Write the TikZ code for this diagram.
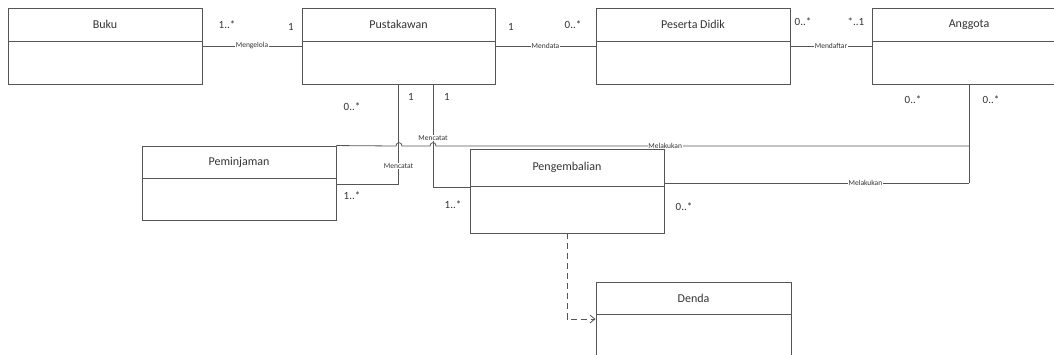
\documentclass[tikz,border=0pt]{standalone}
\usepackage{fontspec}
\setmainfont{Carlito}
\usetikzlibrary{arrows.meta}
\definecolor{edge}{HTML}{555555}
\definecolor{ink}{HTML}{333333}
\tikzset{
  clsbox/.style={draw=edge, line width=0.9pt, rectangle, inner sep=0pt},
  divider/.style={draw=edge, line width=0.9pt},
  clsname/.style={text=ink, font=\fontsize{12}{14}\selectfont, inner sep=0pt},
  mult/.style={text=ink, font=\fontsize{11}{13}\selectfont, inner sep=0pt},
  lbl/.style={text=ink, font=\fontsize{7.5}{9}\selectfont, fill=white, inner sep=0.6pt},
  assoc/.style={draw=edge, line width=0.8pt},
  depend/.style={draw=edge, line width=0.9pt, dash pattern=on 6pt off 4pt,
    -{Straight Barb[length=5pt, width=8pt, line width=0.8pt]}},
}
% class box: name, left, top, right, divider, bottom, title
\newcommand\umlclass[7]{%
  \node[clsbox, minimum width={(#4-#2)*1pt}, minimum height={(#6-#3)*1pt}]
    (#1) at ({(#2+#4)/2},{(#3+#6)/2}) {};
  \draw[divider] (#2,#5) -- (#4,#5);
  \node[clsname] (#1-t) at ({(#2+#4)/2},{(#3+#5)/2}) {#7};
}
\begin{document}
\begin{tikzpicture}[x=1pt, y=-1pt]
\useasboundingbox (0,0) rectangle (1054,354);
\clip (0,0) rectangle (1054,354);

% classes
\umlclass{buku}{8}{8}{202}{41}{84}{Buku}
\umlclass{pus}{302}{8}{495}{41}{84}{Pustakawan}
\umlclass{psd}{596}{8}{790}{41}{84}{Peserta Didik}
\umlclass{agt}{872}{8}{1066}{41}{84}{Anggota}
\umlclass{pem}{142}{146}{336}{178}{220}{Peminjaman}
\umlclass{peng}{470}{149}{664}{186}{233}{Pengembalian}
\umlclass{denda}{596}{282}{791}{314}{380}{Denda}

% associations along the top row
\draw[assoc] (buku.east |- 0,46) -- node[lbl]{Mengelola} (pus.west |- 0,46);
\draw[assoc] (pus.east |- 0,46) -- node[lbl]{Mendata} (psd.west |- 0,46);
\draw[assoc] (psd.east |- 0,46) -- node[lbl]{Mendaftar} (agt.west |- 0,46);

% Anggota trunk line
\coordinate (ja) at (agt.south |- 0,146);
\coordinate (jb) at (agt.south |- 0,183);
\draw[assoc] (agt.south) -- (jb);

% Pustakawan -- Peminjaman
\draw[assoc] (pus.south) -- node[lbl, pos=0.82]{Mencatat} (pus.south |- 0,184) -- (pem.east |- 0,184);

% Pustakawan -- Pengembalian
\coordinate (pc) at (433,0 |- pus.south);
\draw[assoc] (pc) -- node[lbl, pos=0.52]{Mencatat} (pc |- 0,187) -- (peng.west |- 0,187);

% Peminjaman -- Anggota, hopping over the two vertical lines
\draw[assoc] (pem.north east) -- (396,146)
  .. controls (396,141.5) and (402,141.5) .. (402,146) -- (430,146)
  .. controls (430,141.5) and (436,141.5) .. (436,146)
  -- node[lbl, pos=0.43]{Melakukan} (ja);

% Pengembalian -- Anggota
\draw[assoc] (peng.east |- 0,183) -- node[lbl, pos=0.66]{Melakukan} (jb);

% Pengembalian depends on Denda
\draw[depend] (peng.south) -- (peng.south |- 0,319) -- (denda.west |- 0,319);

% multiplicities
\node[mult] (m1) at (227,25) {1..*};
\node[mult] (m2) at (291,27) {1};
\node[mult] (m3) at (511,27) {1};
\node[mult] (m4) at (573,25) {0..*};
\node[mult] (m5) at (803,22) {0..*};
\node[mult] (m6) at (856,22) {*..1};
\node[mult] (m7) at (352,107) {0..*};
\node[mult] (m8) at (352,196) {1..*};
\node[mult] (m9) at (411,97) {1};
\node[mult] (m10) at (447,97) {1};
\node[mult] (m11) at (453,205) {1..*};
\node[mult] (m12) at (684,207) {0..*};
\node[mult] (m13) at (913,100) {0..*};
\node[mult] (m14) at (991,100) {0..*};
\end{tikzpicture}
\end{document}
